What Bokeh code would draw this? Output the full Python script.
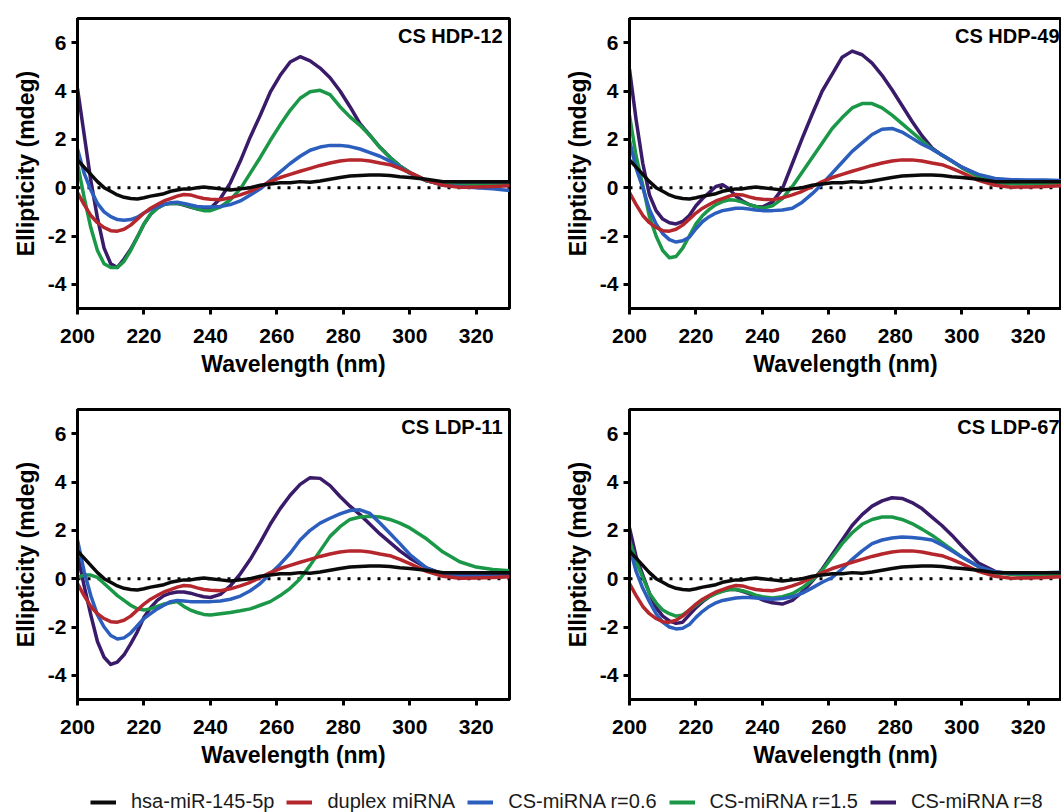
from bokeh.plotting import figure
from bokeh.layouts import column, row
from bokeh.models import Range1d, FixedTicker, Span, Label, Legend, LegendItem
from bokeh.embed import file_html
from bokeh.resources import INLINE

# ---------------- data ----------------
WAVELENGTH = [200, 202, 204, 206, 208, 210, 212, 214, 216, 218, 220, 222, 224, 226, 228,
              230, 232, 234, 236, 238, 240, 243, 246, 249, 252, 255, 258, 261, 264, 267,
              270, 273, 276, 279, 282, 285, 288, 291, 294, 297, 300, 305, 310, 315, 320,
              325, 330]

HSA = [1.15, 0.85, 0.55, 0.25, 0.0, -0.15, -0.3, -0.4, -0.45, -0.47, -0.42, -0.35, -0.3, -0.25, -0.15,
       -0.1, -0.05, -0.05, 0.0, 0.03, 0.0, -0.05, -0.1, -0.05, 0.0, 0.1, 0.15, 0.2, 0.2, 0.25,
       0.22, 0.28, 0.35, 0.42, 0.48, 0.5, 0.52, 0.52, 0.5, 0.45, 0.42, 0.35, 0.25, 0.25, 0.25,
       0.25, 0.25]

DUPLEX = [-0.2, -0.7, -1.15, -1.45, -1.65, -1.78, -1.8, -1.72, -1.55, -1.3, -1.05, -0.85, -0.7, -0.55, -0.45,
          -0.35, -0.28, -0.3, -0.38, -0.45, -0.48, -0.5, -0.42, -0.3, -0.15, 0.05, 0.25, 0.42, 0.55, 0.68,
          0.8, 0.92, 1.02, 1.1, 1.15, 1.15, 1.1, 1.02, 0.95, 0.8, 0.62, 0.3, 0.1, 0.02, 0.03,
          0.05, 0.08]

HDP12_R06 = [1.6, 0.6, -0.1, -0.65, -1.0, -1.2, -1.32, -1.35, -1.32, -1.22, -1.05, -0.9, -0.8, -0.7, -0.62,
             -0.6, -0.65, -0.72, -0.78, -0.8, -0.8, -0.78, -0.7, -0.55, -0.3, -0.05, 0.3, 0.65, 1.0, 1.3,
             1.55, 1.68, 1.75, 1.75, 1.7, 1.6, 1.45, 1.3, 1.1, 0.85, 0.6, 0.3, 0.1, 0.05, 0.0,
             -0.05, -0.12]
HDP12_R15 = [1.0, -0.4, -1.65, -2.6, -3.15, -3.3, -3.3, -3.05, -2.6, -2.05, -1.5, -1.1, -0.85, -0.7, -0.65,
             -0.65, -0.7, -0.78, -0.88, -0.95, -0.95, -0.8, -0.5, -0.05, 0.6, 1.25, 1.95, 2.6, 3.2, 3.7,
             3.97, 4.03, 3.85, 3.35, 2.93, 2.58, 2.16, 1.67, 1.26, 0.9, 0.63, 0.28, 0.14, 0.1, 0.1,
             0.1, 0.1]
HDP12_R8 = [4.1, 2.2, 0.3, -1.25, -2.5, -3.15, -3.3, -2.95, -2.55, -2.05, -1.5, -1.1, -0.85, -0.7, -0.65,
            -0.65, -0.72, -0.8, -0.88, -0.9, -0.85, -0.45, 0.2, 1.1, 2.1, 3.0, 3.95, 4.65, 5.2, 5.42,
            5.25, 4.95, 4.55, 4.0, 3.35, 2.65, 2.16, 1.67, 1.26, 0.9, 0.63, 0.28, 0.14, 0.12, 0.12,
            0.12, 0.12]

HDP49_R06 = [1.95, 0.8, 0.0, -0.9, -1.5, -1.9, -2.15, -2.25, -2.2, -2.05, -1.7, -1.4, -1.2, -1.05, -0.95,
             -0.9, -0.85, -0.85, -0.88, -0.92, -0.95, -0.95, -0.92, -0.85, -0.6, -0.25, 0.15, 0.6, 1.05, 1.5,
             1.85, 2.2, 2.42, 2.45, 2.3, 2.05, 1.8, 1.6, 1.35, 1.1, 0.85, 0.55, 0.38, 0.33, 0.32,
             0.32, 0.3]
HDP49_R15 = [3.0, 1.3, 0.1, -1.2, -2.0, -2.6, -2.9, -2.85, -2.5, -2.0, -1.5, -1.15, -0.9, -0.7, -0.58,
             -0.5, -0.52, -0.6, -0.7, -0.78, -0.85, -0.75, -0.45, 0.05, 0.65, 1.25, 1.85, 2.45, 2.9, 3.3,
             3.48, 3.48, 3.3, 3.0, 2.65, 2.3, 1.95, 1.6, 1.35, 1.1, 0.82, 0.45, 0.22, 0.15, 0.15,
             0.18, 0.2]
HDP49_R8 = [4.9, 2.8, 1.0, -0.3, -0.95, -1.3, -1.45, -1.5, -1.4, -1.15, -0.75, -0.45, -0.2, 0.05, 0.12,
            -0.05, -0.35, -0.55, -0.7, -0.78, -0.8, -0.6, -0.05, 1.0, 2.05, 3.05, 4.0, 4.7, 5.4, 5.65,
            5.5, 5.15, 4.65, 4.05, 3.4, 2.75, 2.15, 1.65, 1.35, 1.1, 0.85, 0.5, 0.32, 0.25, 0.22,
            0.2, 0.2]

LDP11_R06 = [1.6, 0.3, -0.7, -1.5, -2.0, -2.35, -2.5, -2.45, -2.25, -1.95, -1.65, -1.45, -1.25, -1.1, -0.95,
             -0.9, -0.92, -0.95, -0.95, -0.95, -0.95, -0.92, -0.85, -0.72, -0.5, -0.2, 0.2, 0.6, 1.05, 1.6,
             2.0, 2.3, 2.5, 2.68, 2.82, 2.85, 2.7, 2.3, 1.88, 1.45, 1.0, 0.45, 0.15, 0.1, 0.1,
             0.1, 0.1]
LDP11_R15 = [0.05, 0.15, 0.15, 0.05, -0.2, -0.45, -0.7, -0.9, -1.1, -1.25, -1.3, -1.25, -1.15, -1.05, -1.0,
             -0.95, -1.15, -1.3, -1.4, -1.48, -1.5, -1.45, -1.4, -1.33, -1.25, -1.1, -0.95, -0.7, -0.4, 0.0,
             0.55, 1.15, 1.75, 2.15, 2.45, 2.55, 2.58, 2.55, 2.45, 2.3, 2.1, 1.65, 1.1, 0.7, 0.48,
             0.38, 0.33]
LDP11_R8 = [1.0, -0.3, -1.5, -2.6, -3.25, -3.55, -3.45, -3.15, -2.7, -2.2, -1.6, -1.2, -0.9, -0.7, -0.6,
            -0.55, -0.55, -0.6, -0.68, -0.75, -0.78, -0.65, -0.3, 0.2, 0.8, 1.5, 2.25, 2.9, 3.45, 3.9,
            4.18, 4.15, 3.85, 3.4, 3.0, 2.65, 2.25, 1.85, 1.5, 1.15, 0.85, 0.45, 0.2, 0.12, 0.12,
            0.12, 0.12]

LDP67_R06 = [1.3, 0.3, -0.4, -0.95, -1.45, -1.8, -2.0, -2.08, -2.05, -1.9, -1.6, -1.35, -1.15, -1.0, -0.9,
             -0.85, -0.8, -0.78, -0.78, -0.8, -0.82, -0.85, -0.82, -0.75, -0.6, -0.38, -0.15, 0.05, 0.4, 0.8,
             1.15, 1.45, 1.6, 1.68, 1.72, 1.7, 1.66, 1.6, 1.4, 1.15, 0.9, 0.5, 0.28, 0.22, 0.22,
             0.25, 0.27]
LDP67_R15 = [1.6, 0.7, 0.05, -0.6, -1.0, -1.3, -1.45, -1.55, -1.5, -1.3, -1.1, -0.9, -0.75, -0.62, -0.52,
             -0.45, -0.45, -0.5, -0.58, -0.68, -0.75, -0.8, -0.75, -0.62, -0.38, -0.05, 0.35, 0.9, 1.45, 1.9,
             2.25, 2.45, 2.55, 2.55, 2.45, 2.28, 2.05, 1.8, 1.5, 1.2, 0.9, 0.5, 0.25, 0.18, 0.15,
             0.15, 0.15]
LDP67_R8 = [2.1, 0.9, 0.15, -0.6, -1.2, -1.55, -1.75, -1.85, -1.8, -1.5, -1.2, -0.95, -0.75, -0.6, -0.5,
            -0.45, -0.45, -0.52, -0.62, -0.75, -0.88, -1.0, -1.05, -0.9, -0.55, -0.1, 0.4, 1.0, 1.6, 2.2,
            2.65, 3.0, 3.22, 3.35, 3.32, 3.15, 2.9, 2.55, 2.2, 1.8, 1.35, 0.65, 0.3, 0.18, 0.15,
            0.15, 0.15]

SERIES_LABELS = ["hsa-miR-145-5p", "duplex miRNA", "CS-miRNA r=0.6", "CS-miRNA r=1.5", "CS-miRNA r=8"]
PANEL_TITLES = ["CS HDP-12", "CS HDP-49", "CS LDP-11", "CS LDP-67"]
PANEL_DATA = [
    [HSA, DUPLEX, HDP12_R06, HDP12_R15, HDP12_R8],
    [HSA, DUPLEX, HDP49_R06, HDP49_R15, HDP49_R8],
    [HSA, DUPLEX, LDP11_R06, LDP11_R15, LDP11_R8],
    [HSA, DUPLEX, LDP67_R06, LDP67_R15, LDP67_R8],
]
X_TICKS = [200, 220, 240, 260, 280, 300, 320]
Y_TICKS = [-4, -2, 0, 2, 4, 6]
X_MIN, X_MAX = 200, 330
Y_MIN, Y_MAX = -5, 7

# ---------------- style ----------------
COLORS = ["#0a0a0a", "#b5262d", "#2b5ebd", "#1a9847", "#3a1b6a"]
FONT = "Liberation Sans"
LINE_W = 3.5


def make_panel(title, series, width, height, left, right, top, bottom, label_dx):
    p = figure(width=width, height=height,
               x_range=Range1d(X_MIN, X_MAX), y_range=Range1d(Y_MIN, Y_MAX),
               output_backend="svg", toolbar_location=None,
               min_border_left=left, min_border_right=right,
               min_border_top=top, min_border_bottom=bottom)
    p.background_fill_color = "white"
    p.border_fill_color = "white"
    p.xgrid.visible = False
    p.ygrid.visible = False
    p.outline_line_color = "black"
    p.outline_line_width = 3

    p.xaxis.ticker = FixedTicker(ticks=X_TICKS)
    p.yaxis.ticker = FixedTicker(ticks=Y_TICKS)
    p.xaxis.major_label_overrides = {t: str(t) for t in X_TICKS}
    p.yaxis.major_label_overrides = {t: str(t) for t in Y_TICKS}
    p.xaxis.axis_label = "Wavelength (nm)"
    p.yaxis.axis_label = "Ellipticity (mdeg)"
    for ax in (p.xaxis[0], p.yaxis[0]):
        ax.axis_line_width = 3
        ax.axis_line_color = "black"
        ax.major_tick_line_width = 3
        ax.major_tick_line_color = "black"
        ax.major_tick_out = 6
        ax.major_tick_in = 0
        ax.minor_tick_line_color = None
        ax.major_label_text_font = FONT
        ax.major_label_text_font_style = "bold"
        ax.major_label_text_font_size = "21px"
        ax.major_label_text_color = "black"
        ax.axis_label_text_font = FONT
        ax.axis_label_text_font_style = "bold"
        ax.axis_label_text_font_size = "23px"
        ax.axis_label_text_color = "black"
    p.xaxis.major_label_standoff = 14
    p.xaxis.axis_label_standoff = 5
    p.yaxis.major_label_standoff = 5
    p.yaxis.axis_label_standoff = 6

    p.add_layout(Span(location=0, dimension="width", line_color="black",
                      line_width=3, line_dash="3 7", level="underlay"))

    # drawn in reverse legend order (black on top)
    for ys, color in reversed(list(zip(series, COLORS))):
        p.line(WAVELENGTH, ys, line_color=color, line_width=LINE_W, line_join="round")

    p.add_layout(Label(x=X_MAX, y=Y_MAX, x_offset=label_dx, y_offset=-17, text=title,
                       text_align="right", text_baseline="middle",
                       text_font=FONT, text_font_style="bold", text_font_size="20px",
                       text_color="black"))
    return p


p1 = make_panel(PANEL_TITLES[0], PANEL_DATA[0], 530, 399, 77, 21, 18, 91, -7)
p2 = make_panel(PANEL_TITLES[1], PANEL_DATA[1], 531, 399, 99, 0, 18, 91, -2)
p3 = make_panel(PANEL_TITLES[2], PANEL_DATA[2], 530, 371, 77, 21, 10, 70, -7)
p4 = make_panel(PANEL_TITLES[3], PANEL_DATA[3], 531, 371, 99, 0, 10, 70, -2)

# legend strip
leg = figure(width=1061, height=42, output_backend="svg", toolbar_location=None,
             x_range=Range1d(0, 1), y_range=Range1d(0, 1),
             min_border=0, outline_line_color=None)
leg.axis.visible = False
leg.xgrid.visible = False
leg.ygrid.visible = False
items = []
for lab, color in zip(SERIES_LABELS, COLORS):
    r = leg.line(x=[float("nan")], y=[float("nan")], line_color=color, line_width=4)
    items.append(LegendItem(label=lab, renderers=[r]))
legend = Legend(items=items, orientation="horizontal", location=(90, -1),
                glyph_width=26, glyph_height=20, label_height=20, label_standoff=15, spacing=12,
                padding=0, margin=0, border_line_color=None, background_fill_alpha=0,
                label_text_font=FONT, label_text_font_size="20px", label_text_color="#1a1a1a")
leg.add_layout(legend)

layout = column(row(p1, p2), row(p3, p4), leg)
open("out.html", "w").write(file_html(layout, INLINE))
